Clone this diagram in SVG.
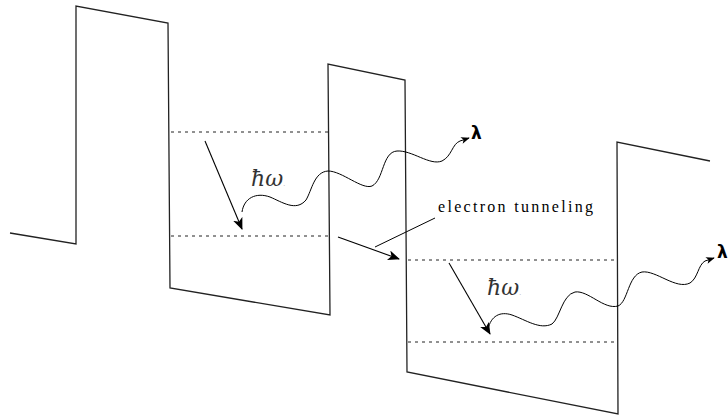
<svg xmlns="http://www.w3.org/2000/svg" width="728" height="418" viewBox="0 0 728 418">
<defs>
<style>
.band{fill:none;stroke:#222;stroke-width:1.3;stroke-linejoin:miter}
.lvl{fill:none;stroke:#222;stroke-width:1;stroke-dasharray:3,4}
.arr{fill:none;stroke:#000;stroke-width:1.1;marker-end:url(#big)}
.wave{fill:none;stroke:#000;stroke-width:1;marker-end:url(#small)}
.lead{fill:none;stroke:#000;stroke-width:1}
.hw{font-family:"DejaVu Serif","Liberation Serif",serif;font-style:italic;font-size:22px;fill:#333}
.lam{font-family:"DejaVu Sans","Liberation Sans",sans-serif;font-weight:bold;font-size:17px;fill:#000}
.lbl{font-family:"Liberation Serif","DejaVu Serif",serif;font-size:16px;fill:#000}
</style>
<marker id="big" viewBox="0 0 12 10" refX="11" refY="5" markerWidth="12" markerHeight="10" markerUnits="userSpaceOnUse" orient="auto">
<path d="M0,0 L12,5 L0,10 L3,5 Z" fill="#000"/>
</marker>
<marker id="small" viewBox="0 0 10 8" refX="9" refY="4" markerWidth="9" markerHeight="7" markerUnits="userSpaceOnUse" orient="auto">
<path d="M0,0 L10,4 L0,8 L2.5,4 Z" fill="#000"/>
</marker>
</defs>
<g id="band-profile">
<path class="band" d="M10,233 L76,244 L76,6 L168,23 L170,288 L330,315 L328,64 L405,80 L407,372 L618,414 L617,142 L710,161"/>
</g>
<g id="levels">
<line class="lvl" x1="171" y1="132" x2="328" y2="132"/>
<line class="lvl" x1="171" y1="236" x2="328" y2="236"/>
<line class="lvl" x1="408" y1="260" x2="617" y2="260"/>
<line class="lvl" x1="408" y1="342" x2="617" y2="342"/>
</g>
<g id="connectors">
<line class="arr" x1="205" y1="141" x2="242" y2="229"/>
<line class="arr" x1="449" y1="263" x2="490" y2="334"/>
<line class="arr" x1="338" y1="237" x2="399" y2="259"/>
<line class="lead" x1="375" y1="247" x2="435" y2="218"/>
<path class="wave" d="M242,212 C244,198 256,192 270,197 C282,202 296,212 306,200 C312,190 314,172 328,171 C342,171 362,190 372,186 C384,180 382,152 397,151 C412,150 430,166 442,161 C452,156 452,144 460,141 L469,138"/>
<path class="wave" d="M488,329 C491,316 500,311 512,315 C526,320 540,330 552,324 C560,318 562,295 575,292 C588,290 604,310 618,306 C628,302 628,275 642,272 C656,270 676,290 690,283 C698,278 698,265 705,261 L714,258"/>
</g>
<g id="labels">
<text class="hw" x="251" y="186">ħω<tspan font-size="8" fill="#bbb" font-style="normal">.</tspan></text>
<text class="hw" x="487" y="295">ħω<tspan font-size="8" fill="#bbb" font-style="normal">.</tspan></text>
<text class="lam" x="471" y="139">λ</text>
<text class="lam" x="717" y="258">λ</text>
<text class="lbl" x="438" y="212" textLength="155" lengthAdjust="spacing">electron  tunneling</text>
</g>
</svg>
